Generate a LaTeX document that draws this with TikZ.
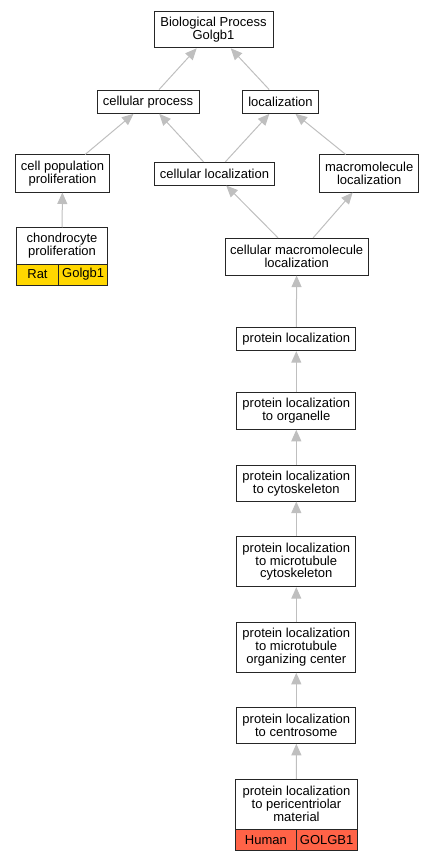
\documentclass[tikz,border=0pt]{standalone}
\usepackage{fontspec}
\setmainfont{Liberation Sans}
\usetikzlibrary{arrows.meta}
\tikzset{
  gobox/.style={draw=black!85, line width=1pt, fill=white, inner sep=0pt, align=center,
    font=\fontsize{13}{12.9}\selectfont},
  cellbox/.style={gobox},
  edge/.style={draw=black!25, line width=1pt, -{Triangle[length=11.5pt,width=10pt]}, color=black!25},
}
\definecolor{ratcol}{HTML}{FFD700}
\definecolor{humcol}{HTML}{FF6347}
\begin{document}
\begin{tikzpicture}[x=1pt,y=-1pt]
\useasboundingbox (0,0) rectangle (435,861);
% nodes
\node[gobox, minimum width=119pt, minimum height=36pt] (bp) at (213.5,29.8) {Biological Process\\Golgb1};
\node[gobox, minimum width=102pt, minimum height=23.3pt] (cp) at (148,101.7) {cellular process};
\node[gobox, minimum width=75.6pt, minimum height=23.3pt] (loc) at (280.5,101.7) {localization};
\node[gobox, minimum width=93.6pt, minimum height=37pt] (cpp) at (62.5,173.5) {cell population\\proliferation};
\node[gobox, minimum width=120.4pt, minimum height=22.7pt] (cl) at (214.5,173.7) {cellular localization};
\node[gobox, minimum width=99pt, minimum height=37pt] (ml) at (369.2,173.5) {macromolecule\\localization};
\node[gobox, minimum width=91.4pt, minimum height=36.3pt] (chon) at (62,245.9) {chondrocyte\\proliferation};
\node[cellbox, fill=ratcol, minimum width=42.4pt, minimum height=21pt] (rat) at (37.5,274.5) {Rat};
\node[cellbox, fill=ratcol, minimum width=49pt, minimum height=21pt] (ratg) at (83.2,274.5) {Golgb1};
\node[gobox, minimum width=142.7pt, minimum height=36.7pt] (cml) at (296.7,256.7) {cellular macromolecule\\localization};
\node[gobox, minimum width=119.3pt, minimum height=23.4pt] (pl) at (296.3,339) {protein localization};
\node[gobox, minimum width=119.3pt, minimum height=36.6pt] (plo) at (296.3,411) {protein localization\\to organelle};
\node[gobox, minimum width=119.3pt, minimum height=35.7pt] (plc) at (296.3,483.2) {protein localization\\to cytoskeleton};
\node[gobox, minimum width=119.3pt, minimum height=50pt] (plmc) at (296.3,561.7) {protein localization\\to microtubule\\cytoskeleton};
\node[gobox, minimum width=119.3pt, minimum height=49.6pt] (plmtoc) at (296.3,647.5) {protein localization\\to microtubule\\organizing center};
\node[gobox, minimum width=119.3pt, minimum height=35.6pt] (plcen) at (296.3,725.5) {protein localization\\to centrosome};
\node[gobox, minimum width=121.6pt, minimum height=49.7pt] (plpcm) at (296.5,804.2) {protein localization\\to pericentriolar\\material};
\node[cellbox, fill=humcol, minimum width=60.3pt, minimum height=21.7pt] (hum) at (265.85,839.85) {Human};
\node[cellbox, fill=humcol, minimum width=61.3pt, minimum height=21.7pt] (humg) at (326.65,839.85) {GOLGB1};
% edges
\draw[edge] (cp) -- (bp);
\draw[edge] (loc) -- (bp);
\draw[edge] (cpp) -- (cp);
\draw[edge] (cl) -- (cp);
\draw[edge] (cl) -- (loc);
\draw[edge] (ml) -- (loc);
\draw[edge] (chon) -- (cpp);
\draw[edge] (cml) -- (cl);
\draw[edge] (cml) -- (ml);
\draw[edge] (pl) -- (cml);
\draw[edge] (plo) -- (pl);
\draw[edge] (plc) -- (plo);
\draw[edge] (plmc) -- (plc);
\draw[edge] (plmtoc) -- (plmc);
\draw[edge] (plcen) -- (plmtoc);
\draw[edge] (plpcm) -- (plcen);
\end{tikzpicture}
\end{document}
